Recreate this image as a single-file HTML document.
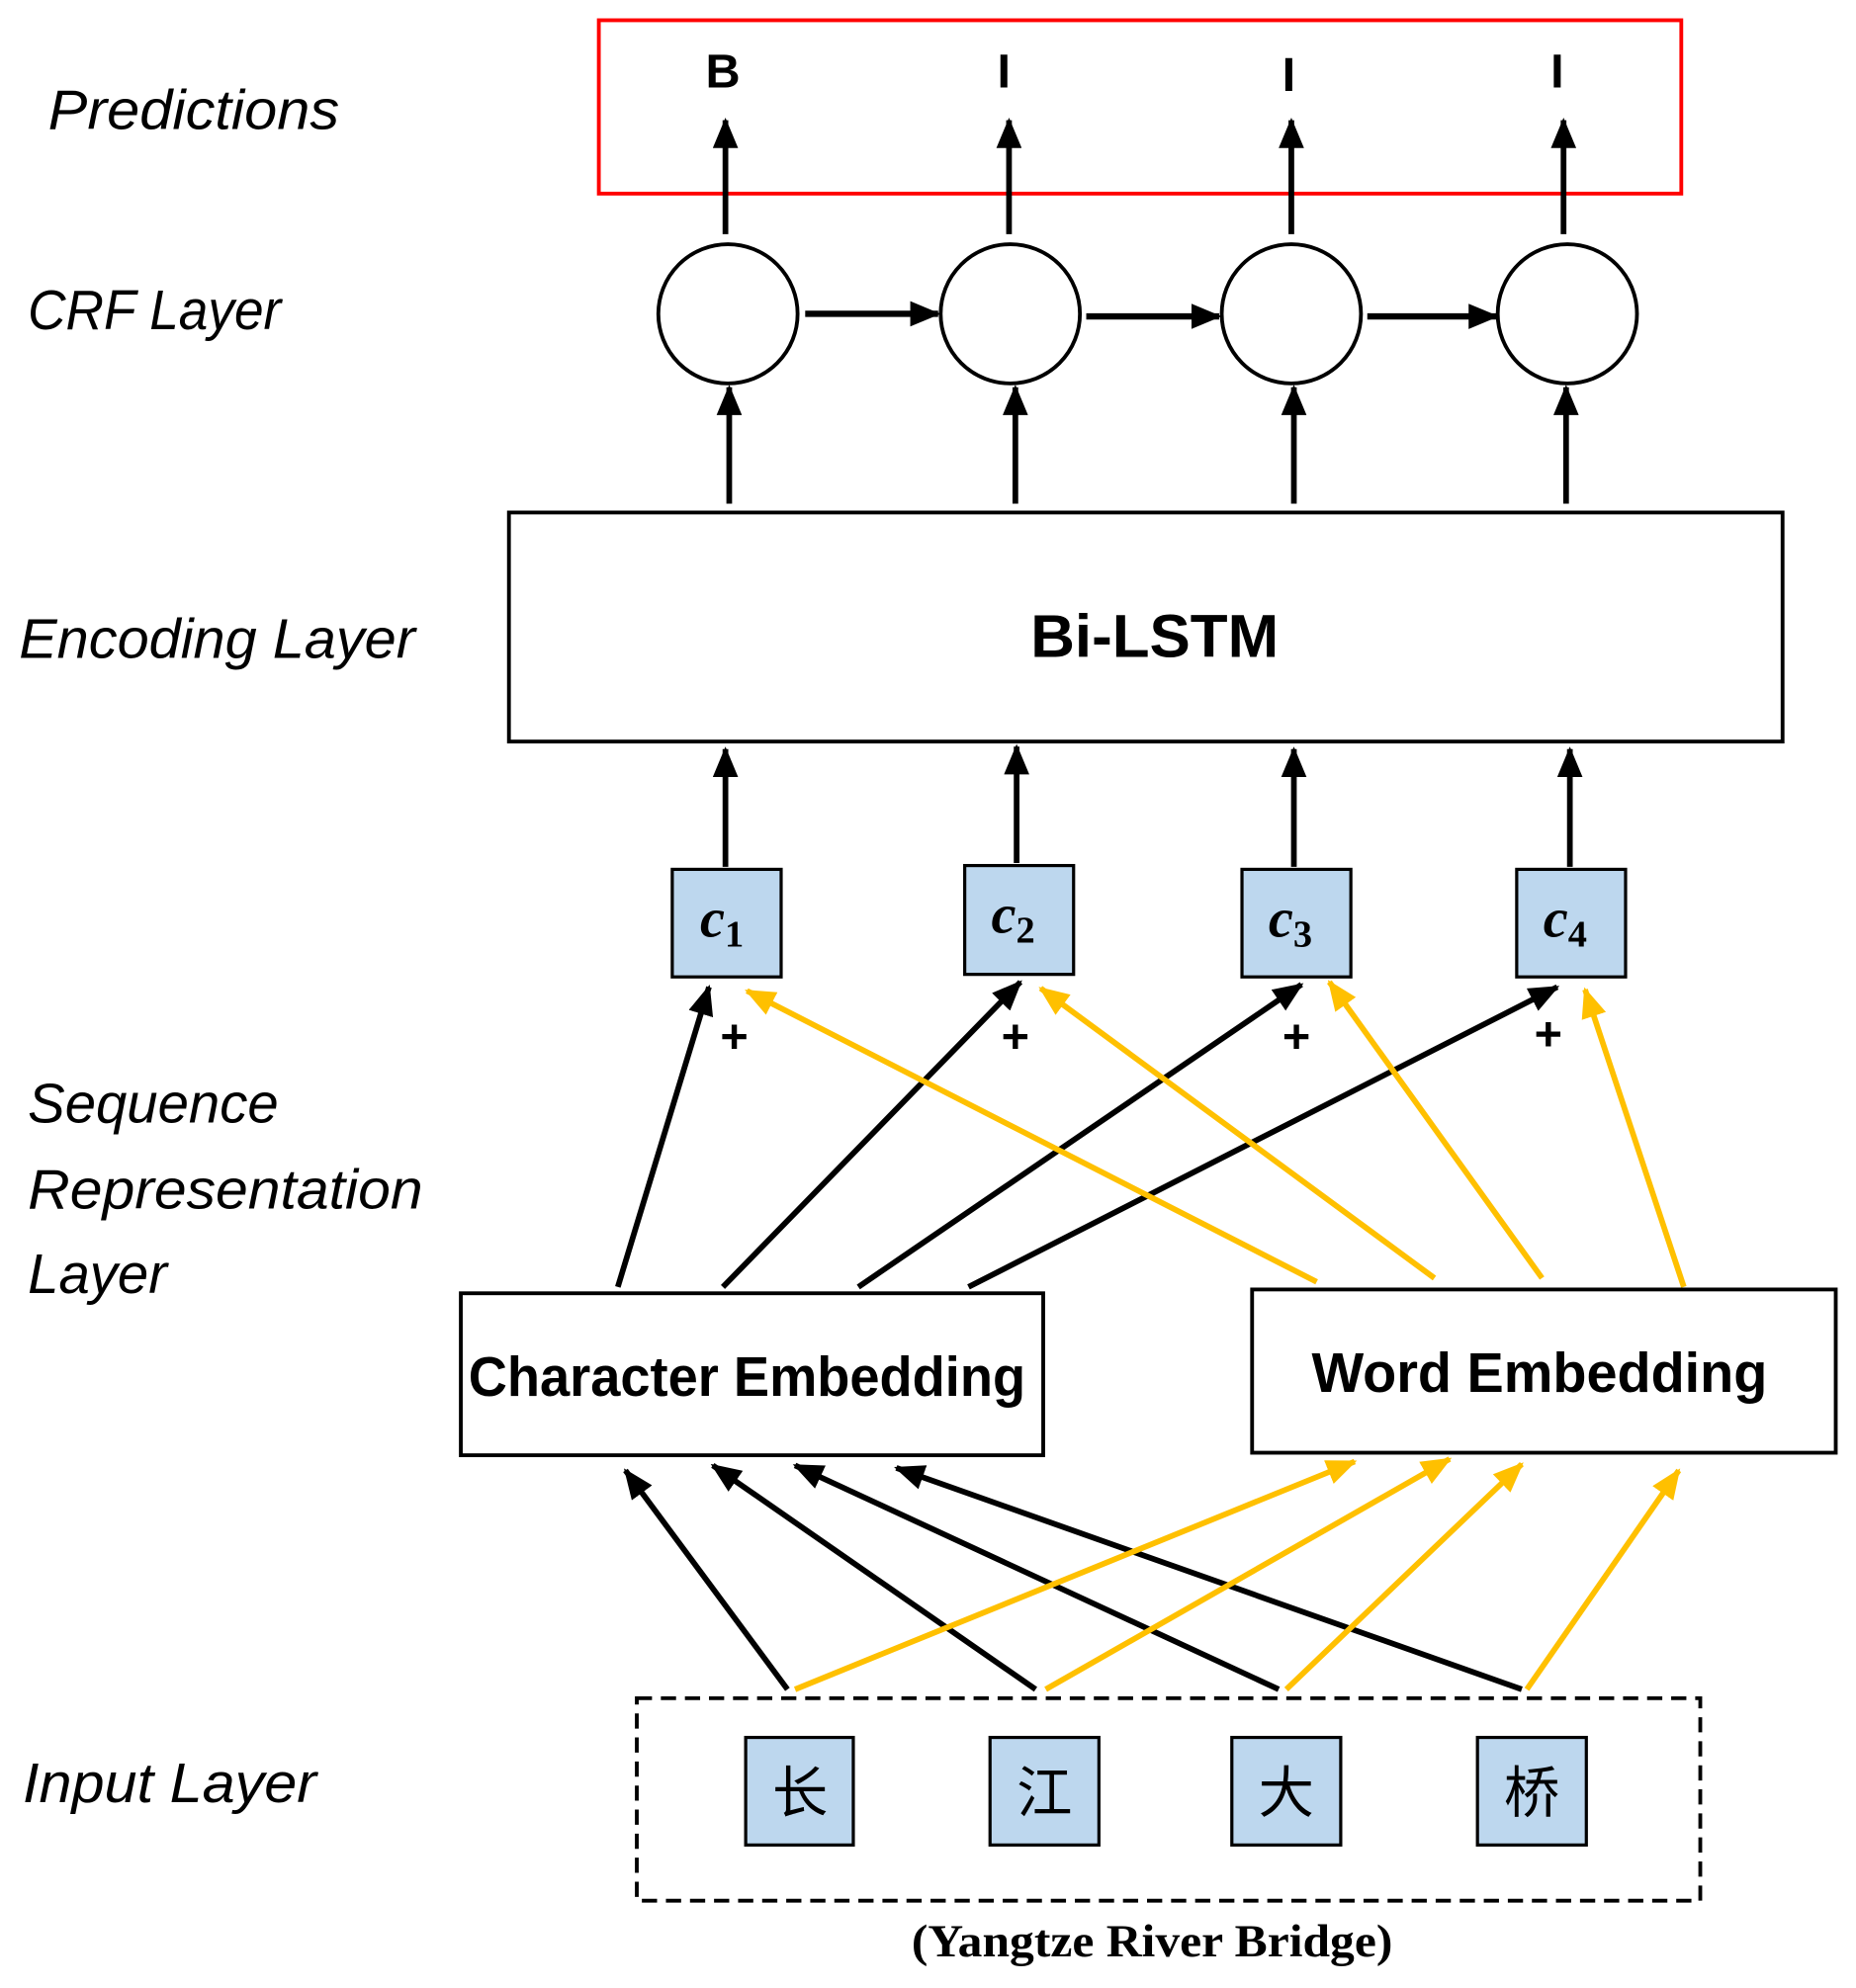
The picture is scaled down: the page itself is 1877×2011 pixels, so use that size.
<!DOCTYPE html>
<html><head><meta charset="utf-8"><style>html,body{margin:0;padding:0;background:#fff}svg{display:block}</style></head>
<body>
<svg width="1877" height="2011" viewBox="0 0 1466 1571" preserveAspectRatio="none" xmlns="http://www.w3.org/2000/svg">
<defs>
<marker id="ab" markerUnits="userSpaceOnUse" markerWidth="24" markerHeight="20" refX="22" refY="10" orient="auto"><path d="M0,0 L24,10 L0,20 z" fill="#000"/></marker>
<marker id="ay" markerUnits="userSpaceOnUse" markerWidth="24" markerHeight="20" refX="22" refY="10" orient="auto"><path d="M0,0 L24,10 L0,20 z" fill="#ffc000"/></marker>
</defs>
<g font-family="Liberation Sans, sans-serif" font-style="italic" font-size="44" fill="#000" lengthAdjust="spacingAndGlyphs">
<text x="38" y="102" textLength="230" lengthAdjust="spacingAndGlyphs">Predictions</text>
<text x="22" y="260" textLength="200" lengthAdjust="spacingAndGlyphs">CRF Layer</text>
<text x="15" y="520" textLength="313" lengthAdjust="spacingAndGlyphs">Encoding Layer</text>
<text x="22" y="887" textLength="198" lengthAdjust="spacingAndGlyphs">Sequence</text>
<text x="22" y="955" textLength="312" lengthAdjust="spacingAndGlyphs">Representation</text>
<text x="22" y="1022" textLength="110" lengthAdjust="spacingAndGlyphs">Layer</text>
<text x="18" y="1424" textLength="232" lengthAdjust="spacingAndGlyphs">Input Layer</text>
</g>
<rect x="473" y="16" width="855" height="137" fill="none" stroke="#ff0000" stroke-width="3"/>
<g font-family="Liberation Sans, sans-serif" font-weight="bold" font-size="38" text-anchor="middle">
<text x="571" y="69">B</text><text x="793" y="69">I</text><text x="1018" y="72">I</text><text x="1230" y="69">I</text>
</g>
<g stroke="#000" stroke-width="4.5" fill="none">
<line x1="573" y1="185" x2="573" y2="95" marker-end="url(#ab)"/>
<line x1="797" y1="185" x2="797" y2="95" marker-end="url(#ab)"/>
<line x1="1020" y1="185" x2="1020" y2="95" marker-end="url(#ab)"/>
<line x1="1235" y1="185" x2="1235" y2="95" marker-end="url(#ab)"/>
<circle cx="575" cy="248" r="55" stroke-width="3"/>
<circle cx="798" cy="248" r="55" stroke-width="3"/>
<circle cx="1020" cy="248" r="55" stroke-width="3"/>
<circle cx="1238" cy="248" r="55" stroke-width="3"/>
<line x1="636" y1="248" x2="741" y2="248" stroke-width="5" marker-end="url(#ab)"/>
<line x1="858" y1="250" x2="963" y2="250" stroke-width="5" marker-end="url(#ab)"/>
<line x1="1080" y1="250" x2="1182" y2="250" stroke-width="5" marker-end="url(#ab)"/>
<line x1="576" y1="398" x2="576" y2="306" marker-end="url(#ab)"/>
<line x1="802" y1="398" x2="802" y2="306" marker-end="url(#ab)"/>
<line x1="1022" y1="398" x2="1022" y2="306" marker-end="url(#ab)"/>
<line x1="1237" y1="398" x2="1237" y2="306" marker-end="url(#ab)"/>
<rect x="402" y="405" width="1006" height="181" stroke-width="3"/>
<line x1="573" y1="685" x2="573" y2="592" marker-end="url(#ab)"/>
<line x1="803" y1="682" x2="803" y2="590" marker-end="url(#ab)"/>
<line x1="1022" y1="685" x2="1022" y2="592" marker-end="url(#ab)"/>
<line x1="1240" y1="685" x2="1240" y2="592" marker-end="url(#ab)"/>
</g>
<text x="912" y="519" text-anchor="middle" font-family="Liberation Sans, sans-serif" font-weight="bold" font-size="48" textLength="196" lengthAdjust="spacingAndGlyphs">Bi-LSTM</text>
<g fill="#bdd7ee" stroke="#000" stroke-width="2.5">
<rect x="531" y="687" width="86" height="85"/><rect x="762" y="684" width="86" height="86"/>
<rect x="981" y="687" width="86" height="85"/><rect x="1198" y="687" width="86" height="85"/>
<rect x="589" y="1373" width="85" height="85"/><rect x="782" y="1373" width="86" height="85"/>
<rect x="973" y="1373" width="86" height="85"/><rect x="1167" y="1373" width="86" height="85"/>
</g>
<g font-family="Liberation Serif, serif" font-style="italic" font-weight="bold" font-size="44">
<text x="553" y="740">c<tspan font-size="30" font-style="normal" dy="8">1</tspan></text>
<text x="783" y="737">c<tspan font-size="30" font-style="normal" dy="8">2</tspan></text>
<text x="1002" y="740">c<tspan font-size="30" font-style="normal" dy="8">3</tspan></text>
<text x="1219" y="740">c<tspan font-size="30" font-style="normal" dy="8">4</tspan></text>
</g>
<g font-family="Liberation Sans, sans-serif" font-weight="bold" font-size="38" text-anchor="middle">
<text x="580" y="832">+</text><text x="802" y="832">+</text><text x="1024" y="832">+</text><text x="1223" y="830">+</text>
</g>
<g stroke-width="4.5" fill="none">
<g stroke="#000">
<line x1="488" y1="1017" x2="560" y2="780" marker-end="url(#ab)"/>
<line x1="571" y1="1017" x2="806" y2="776" marker-end="url(#ab)"/>
<line x1="678" y1="1017" x2="1028" y2="778" marker-end="url(#ab)"/>
<line x1="765" y1="1017" x2="1230" y2="780" marker-end="url(#ab)"/>
</g>
<g stroke="#ffc000">
<line x1="1040" y1="1013" x2="590" y2="783" marker-end="url(#ay)"/>
<line x1="1133" y1="1010" x2="822" y2="781" marker-end="url(#ay)"/>
<line x1="1218" y1="1010" x2="1050" y2="776" marker-end="url(#ay)"/>
<line x1="1330" y1="1017" x2="1252" y2="782" marker-end="url(#ay)"/>
</g>
<rect x="364" y="1022" width="460" height="128" stroke="#000" stroke-width="3"/>
<rect x="989" y="1019" width="461" height="129" stroke="#000" stroke-width="3"/>
<g stroke="#000">
<line x1="622" y1="1335" x2="494" y2="1162" marker-end="url(#ab)"/>
<line x1="818" y1="1335" x2="563" y2="1158" marker-end="url(#ab)"/>
<line x1="1010" y1="1335" x2="628" y2="1158" marker-end="url(#ab)"/>
<line x1="1202" y1="1335" x2="708" y2="1160" marker-end="url(#ab)"/>
</g>
<g stroke="#ffc000">
<line x1="628" y1="1335" x2="1070" y2="1155" marker-end="url(#ay)"/>
<line x1="826" y1="1335" x2="1145" y2="1153" marker-end="url(#ay)"/>
<line x1="1016" y1="1335" x2="1202" y2="1157" marker-end="url(#ay)"/>
<line x1="1206" y1="1335" x2="1326" y2="1162" marker-end="url(#ay)"/>
</g>
<rect x="503" y="1342" width="840" height="160" stroke="#000" stroke-width="3" stroke-dasharray="12,7"/>
</g>
<g font-family="Liberation Sans, sans-serif" font-weight="bold" font-size="44" text-anchor="middle">
<text x="590" y="1103" textLength="440" lengthAdjust="spacingAndGlyphs">Character Embedding</text>
<text x="1216" y="1100" textLength="360" lengthAdjust="spacingAndGlyphs">Word Embedding</text>
</g>
<g font-family="Liberation Sans, 'Noto Sans CJK SC', sans-serif" font-size="44" text-anchor="middle">
<text x="632" y="1432">长</text><text x="825" y="1432">江</text><text x="1016" y="1432">大</text><text x="1210" y="1432">桥</text>
</g>
<text x="910" y="1546" text-anchor="middle" font-family="Liberation Serif, serif" font-weight="bold" font-size="36" textLength="380" lengthAdjust="spacingAndGlyphs">(Yangtze River Bridge)</text>
</svg>
</body></html>
